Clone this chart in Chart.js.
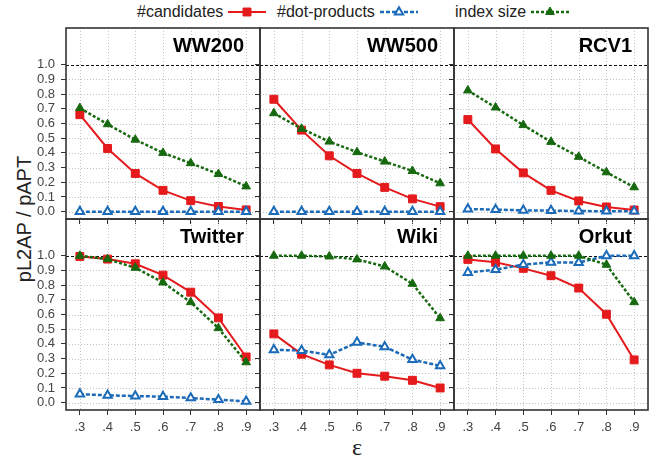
<!DOCTYPE html>
<html>
<head>
<meta charset="utf-8">
<script src="https://cdn.jsdelivr.net/npm/chart.js@4.4.1/dist/chart.umd.min.js"></script>
<style>
html, body { margin: 0; padding: 0; background: #fff; }
#page { position: relative; width: 660px; height: 456px; overflow: hidden;
        font-family: "Liberation Sans", Arial, sans-serif; }
.panel { position: absolute; }
.lgText { position: absolute; top: 3px; font-size: 16px; line-height: 18px; color: #222; white-space: nowrap; }
.lgMark { position: absolute; top: 5px; }
#ytitle { position: absolute; left: 24px; top: 219px; transform: translate(-50%, -50%) rotate(-90deg);
          font-size: 20px; color: #222; white-space: nowrap; }
#xtitle { position: absolute; left: 357px; top: 447px; transform: translate(-50%, -50%);
          font-family: "Liberation Serif", "DejaVu Serif", serif; font-size: 24px; color: #222; }
</style>
</head>
<body>
<div id="page">
  <div id="legend"></div>
  <div id="ytitle">pL2AP / pAPT</div>
  <div id="xtitle">ε</div>
</div>

<script>
// ---------------- data ----------------
const epsilons = ['.3', '.4', '.5', '.6', '.7', '.8', '.9'];
const yTicks = [0, 0.1, 0.2, 0.3, 0.4, 0.5, 0.6, 0.7, 0.8, 0.9, 1.0];
const collections = ['WW200', 'WW500', 'RCV1', 'Twitter', 'Wiki', 'Orkut'];

// one row per collection, same order as above
const candidates = [
  [0.66, 0.43, 0.26, 0.145, 0.075, 0.035, 0.012],
  [0.765, 0.555, 0.38, 0.26, 0.165, 0.087, 0.034],
  [0.627, 0.427, 0.264, 0.145, 0.073, 0.032, 0.011],
  [0.995, 0.977, 0.945, 0.868, 0.752, 0.577, 0.311],
  [0.468, 0.33, 0.257, 0.2, 0.18, 0.152, 0.1],
  [0.975, 0.955, 0.914, 0.864, 0.78, 0.602, 0.291]
];
const dotProducts = [
  [0.0, 0.0, 0.0, 0.0, 0.0, 0.0, 0.0],
  [0.0, 0.0, 0.0, 0.0, 0.0, 0.0, 0.0],
  [0.018, 0.014, 0.009, 0.007, 0.004, 0.003, 0.003],
  [0.058, 0.05, 0.045, 0.041, 0.032, 0.02, 0.009],
  [0.359, 0.355, 0.325, 0.41, 0.38, 0.293, 0.25],
  [0.886, 0.905, 0.94, 0.955, 0.953, 1.0, 1.0]
];
const indexSize = [
  [0.705, 0.595, 0.49, 0.40, 0.33, 0.256, 0.172],
  [0.67, 0.564, 0.477, 0.405, 0.341, 0.277, 0.193],
  [0.825, 0.709, 0.589, 0.475, 0.373, 0.268, 0.166],
  [1.0, 0.977, 0.918, 0.818, 0.684, 0.507, 0.275],
  [1.0, 1.0, 0.995, 0.975, 0.927, 0.809, 0.575],
  [1.0, 1.0, 1.0, 1.0, 1.0, 0.939, 0.684]
];

// ---------------- styles ----------------
const FONT = '"Liberation Sans", Arial, sans-serif';
const series = [
  { label: '#candidates',   values: candidates,  color: '#E41A1C', fill: '#E41A1C', width: 2,   dash: [],     marker: 'rect',     radius: 5.6, markerBorder: 1, order: 3 },
  { label: '#dot-products', values: dotProducts, color: '#1C6BB8', fill: '#ffffff', width: 2.5, dash: [4, 2], marker: 'triangle', radius: 4.8, markerBorder: 2, order: 2 },
  { label: 'index size',    values: indexSize,   color: '#17690F', fill: '#17690F', width: 2.5, dash: [3, 2], marker: 'triangle', radius: 5,   markerBorder: 1, order: 1 }
];

const panelLeft = [66, 260, 454];
const panelTop = [28, 219];
const panelW = 194, panelH = 191;

// gridlines, 1.0 reference line, frame and panel name
const panelDecor = {
  id: 'panelDecor',
  beforeDatasetsDraw(chart) {
    const { ctx, chartArea: a, scales: { x, y } } = chart;
    ctx.save();
    ctx.lineWidth = 1;
    ctx.strokeStyle = '#c4c4c4';
    ctx.setLineDash([1, 2]);
    ctx.beginPath();
    x.ticks.forEach((t, i) => {
      const px = Math.round(x.getPixelForTick(i)) + 0.5;
      ctx.moveTo(px, a.top); ctx.lineTo(px, a.bottom);
    });
    y.ticks.forEach(t => {
      if (t.value >= 1) return;
      const py = Math.round(y.getPixelForValue(t.value)) + 0.5;
      ctx.moveTo(a.left, py); ctx.lineTo(a.right, py);
    });
    ctx.stroke();

    const p1 = Math.round(y.getPixelForValue(1.0)) + 0.5;
    ctx.strokeStyle = '#111';
    ctx.lineWidth = 1.2;
    ctx.setLineDash([3, 2]);
    ctx.beginPath();
    ctx.moveTo(a.left, p1); ctx.lineTo(a.right, p1);
    ctx.stroke();
    ctx.restore();
  },
  afterDraw(chart, args, opts) {
    const { ctx, chartArea: a } = chart;
    ctx.save();
    ctx.strokeStyle = '#333';
    ctx.lineWidth = 1.6;
    ctx.strokeRect(a.left, a.top, a.right - a.left, a.bottom - a.top);
    ctx.fillStyle = '#000';
    ctx.font = 'bold 20px ' + FONT;
    ctx.textAlign = 'right';
    ctx.textBaseline = 'alphabetic';
    ctx.fillText(opts.name, a.right - 16, a.top + 24);
    ctx.restore();
  }
};

// fixed axis box: no extra room for overhanging tick labels
function fixBox(s, w, h) {
  if (w !== null) s.width = w;
  if (h !== null) s.height = h;
  s.paddingLeft = s.paddingRight = s.paddingTop = s.paddingBottom = 0;
}

function makePanel(i) {
  const col = i % 3, row = Math.floor(i / 3);
  const axisW = col === 0 ? 66 : 6;
  const bottomH = row === 1 ? 32 : 6;

  const canvas = document.createElement('canvas');
  canvas.className = 'panel';
  canvas.width = axisW + panelW + 2;
  canvas.height = 1 + panelH + bottomH;
  canvas.style.left = (panelLeft[col] - axisW) + 'px';
  canvas.style.top = (panelTop[row] - 1) + 'px';
  document.getElementById('page').appendChild(canvas);

  new Chart(canvas.getContext('2d'), {
    type: 'line',
    data: {
      labels: epsilons,
      datasets: series.map(s => ({
        label: s.label,
        data: s.values[i],
        borderColor: s.color,
        backgroundColor: s.fill,
        borderWidth: s.width,
        borderDash: s.dash,
        pointStyle: s.marker,
        pointRadius: s.radius,
        pointBorderWidth: s.markerBorder,
        pointBackgroundColor: s.fill,
        pointBorderColor: s.color,
        tension: 0,
        order: s.order
      }))
    },
    options: {
      responsive: false,
      animation: false,
      layout: { autoPadding: false, padding: { top: 1, right: 2, left: 0, bottom: 0 } },
      scales: {
        x: {
          type: 'category',
          offset: true,
          afterFit: s => fixBox(s, null, bottomH),
          ticks: { display: row === 1, padding: 5, color: '#444', font: { size: 13, family: FONT }, maxRotation: 0, autoSkip: false },
          grid: { drawOnChartArea: false, drawTicks: true, tickLength: 5, tickColor: '#333' },
          border: { display: false }
        },
        y: {
          type: 'linear',
          min: -0.05,
          max: 1.25,
          afterBuildTicks: s => { s.ticks = yTicks.map(v => ({ value: v })); },
          afterFit: s => fixBox(s, axisW, null),
          ticks: { display: col === 0, padding: 6, color: '#444', font: { size: 13, family: FONT }, autoSkip: false,
                   callback: v => v.toFixed(1) },
          grid: { drawOnChartArea: false, drawTicks: true, tickLength: 5, tickColor: '#333' },
          border: { display: false }
        }
      },
      plugins: {
        legend: { display: false },
        tooltip: { enabled: false },
        panelDecor: { name: collections[i] }
      }
    },
    plugins: [panelDecor]
  });
}

collections.forEach((c, i) => makePanel(i));

// ---------------- legend ----------------
const legendPos = [
  { text: 137, mark: 228 },
  { text: 277, mark: 380 },
  { text: 455, mark: 531 }
];
const legend = document.getElementById('legend');
series.forEach((s, k) => {
  const t = document.createElement('div');
  t.className = 'lgText';
  t.style.left = legendPos[k].text + 'px';
  t.textContent = s.label;
  legend.appendChild(t);

  const c = document.createElement('canvas');
  c.className = 'lgMark';
  c.width = 38; c.height = 14;
  c.style.left = legendPos[k].mark + 'px';
  legend.appendChild(c);
  const ctx = c.getContext('2d');
  ctx.strokeStyle = s.color;
  ctx.lineWidth = s.width;
  ctx.setLineDash(s.dash);
  ctx.beginPath();
  ctx.moveTo(0, 7); ctx.lineTo(38, 7);
  ctx.stroke();
  ctx.setLineDash([]);
  ctx.fillStyle = s.fill;
  ctx.strokeStyle = s.color;
  ctx.lineWidth = s.markerBorder;
  Chart.helpers.drawPoint(ctx, { pointStyle: s.marker, radius: s.radius, borderWidth: s.markerBorder, rotation: 0 }, 19, 7);
});
</script>
</body>
</html>
